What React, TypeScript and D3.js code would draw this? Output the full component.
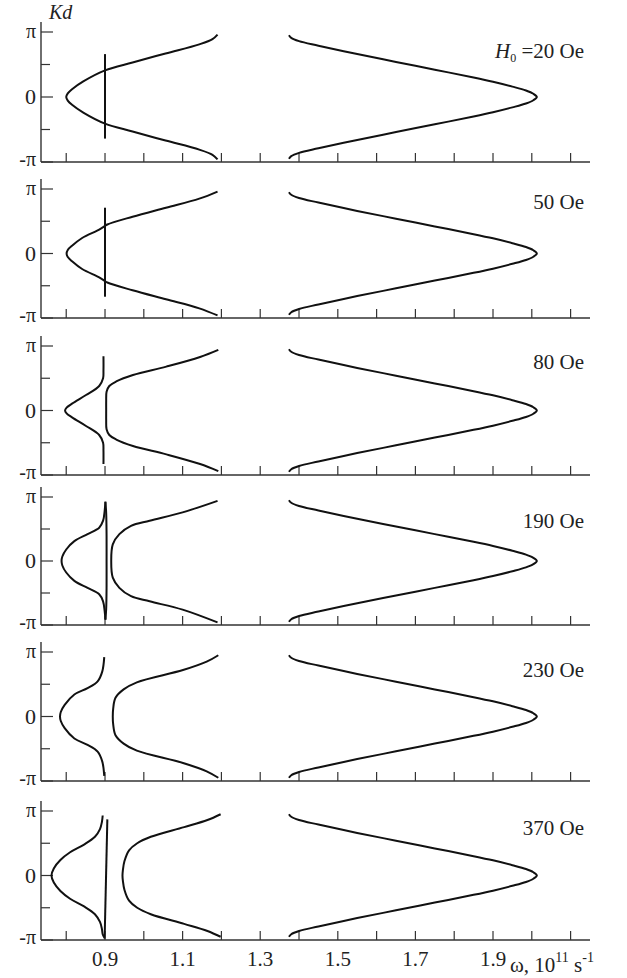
import React, { useRef, useEffect } from "react";
import * as d3 from "d3";

// omega in 10^11 s^-1, Kd in units of pi
const omegaTicks = [0.8, 0.9, 1.0, 1.1, 1.2, 1.3, 1.4, 1.5, 1.6, 1.7, 1.8, 1.9, 2.0, 2.1];
const omegaLabels = [0.9, 1.1, 1.3, 1.5, 1.7, 1.9];
const kdTicks = [-1, -0.5, 0, 0.5, 1];
const kdLabelValues = [1, 0, -1];
const kdLabelText = ["π", "0", "-π"];
const fieldLabels = ["20 Oe", "50 Oe", "80 Oe", "190 Oe", "230 Oe", "370 Oe"];

// high frequency branch, same in every panel
const highBranch = [
  [1.374, 0.95], [1.38, 0.91], [1.40, 0.86], [1.45, 0.79], [1.55, 0.66], [1.65, 0.54],
  [1.75, 0.42], [1.85, 0.30], [1.90, 0.235], [1.95, 0.16], [1.985, 0.10], [2.004, 0.05],
  [2.013, 0], [2.004, -0.05], [1.985, -0.10], [1.95, -0.16], [1.90, -0.235], [1.85, -0.30],
  [1.75, -0.42], [1.65, -0.54], [1.55, -0.66], [1.45, -0.79], [1.40, -0.86], [1.38, -0.91],
  [1.374, -0.95]
];

// 20 Oe
const h20a = [
  [1.19, 0.96], [1.177, 0.89], [1.143, 0.81], [1.056, 0.67], [0.971, 0.53], [0.9, 0.41],
  [0.844, 0.24], [0.815, 0.12], [0.804, 0.055], [0.80, 0], [0.804, -0.055], [0.815, -0.12],
  [0.844, -0.24], [0.9, -0.41], [0.971, -0.53], [1.056, -0.67], [1.143, -0.81],
  [1.177, -0.89], [1.19, -0.96]
];
const h20b = [[0.9, 0.66], [0.9, -0.64]];

// 50 Oe
const h50a = [
  [1.19, 0.96], [1.143, 0.85], [1.057, 0.71], [0.971, 0.57], [0.906, 0.45], [0.898, 0.42],
  [0.885, 0.37], [0.841, 0.24], [0.815, 0.12], [0.804, 0.055], [0.801, 0], [0.804, -0.055],
  [0.815, -0.12], [0.841, -0.24], [0.885, -0.37], [0.898, -0.42], [0.906, -0.45],
  [0.971, -0.57], [1.057, -0.71], [1.143, -0.85], [1.19, -0.96]
];
const h50b = [[0.9, 0.71], [0.9, -0.67]];

// 80 Oe
const h80a = [
  [0.896, 0.84], [0.896, 0.62], [0.895, 0.5], [0.885, 0.38], [0.851, 0.24], [0.816, 0.11],
  [0.801, 0.045], [0.797, 0], [0.801, -0.045], [0.816, -0.11], [0.851, -0.24], [0.885, -0.38],
  [0.895, -0.5], [0.896, -0.62], [0.896, -0.83]
];
const h80b = [
  [1.192, 0.94], [1.145, 0.83], [1.058, 0.68], [0.972, 0.55], [0.929, 0.45], [0.911, 0.38],
  [0.904, 0.29], [0.903, 0.15], [0.903, 0], [0.903, -0.15], [0.904, -0.29], [0.911, -0.38],
  [0.929, -0.45], [0.972, -0.55], [1.058, -0.68], [1.145, -0.83], [1.192, -0.94]
];

// 190 Oe
const h190a = [
  [0.901, 0.92], [0.899, 0.78], [0.895, 0.63], [0.885, 0.52], [0.855, 0.42], [0.821, 0.31],
  [0.80, 0.18], [0.79, 0.07], [0.788, 0], [0.79, -0.07], [0.80, -0.18], [0.821, -0.31],
  [0.855, -0.42], [0.885, -0.52], [0.895, -0.63], [0.899, -0.78], [0.901, -0.91]
];
const h190b = [
  [0.901, 0.93], [0.903, 0.75], [0.904, 0.4], [0.904, 0], [0.904, -0.4], [0.903, -0.75],
  [0.901, -0.92]
];
const h190c = [
  [1.19, 0.94], [1.1, 0.76], [1.015, 0.63], [0.967, 0.55], [0.937, 0.42], [0.92, 0.26],
  [0.916, 0], [0.92, -0.26], [0.937, -0.42], [0.967, -0.55], [1.015, -0.63], [1.1, -0.76],
  [1.19, -0.96]
];

// 230 Oe
const h230a = [
  [0.898, 0.92], [0.893, 0.70], [0.881, 0.545], [0.855, 0.44], [0.821, 0.34], [0.796, 0.18],
  [0.786, 0.07], [0.784, 0], [0.786, -0.07], [0.796, -0.18], [0.821, -0.34], [0.855, -0.44],
  [0.881, -0.545], [0.893, -0.70], [0.898, -0.92]
];
const h230b = [
  [1.192, 0.95], [1.162, 0.85], [1.101, 0.72], [0.982, 0.53], [0.948, 0.42], [0.927, 0.29],
  [0.921, 0.12], [0.92, 0], [0.921, -0.12], [0.927, -0.29], [0.948, -0.42], [0.982, -0.53],
  [1.101, -0.72], [1.162, -0.85], [1.192, -0.95]
];

// 370 Oe
const h370a = [
  [0.894, 0.93], [0.892, 0.83], [0.887, 0.72], [0.874, 0.60], [0.846, 0.48], [0.81, 0.36],
  [0.785, 0.24], [0.768, 0.11], [0.762, 0], [0.768, -0.11], [0.785, -0.24], [0.81, -0.36],
  [0.846, -0.48], [0.874, -0.60], [0.887, -0.72], [0.892, -0.83], [0.894, -0.91],
  [0.898, -0.96]
];
const h370b = [[0.906, 0.87], [0.899, -0.98]];
const h370c = [
  [1.198, 0.95], [1.164, 0.86], [1.104, 0.75], [1.018, 0.6], [0.983, 0.5], [0.962, 0.39],
  [0.95, 0.22], [0.946, 0.08], [0.945, 0], [0.946, -0.08], [0.95, -0.22], [0.962, -0.39],
  [0.983, -0.5], [1.018, -0.6], [1.104, -0.75], [1.164, -0.86], [1.198, -0.95]
];

const panelCurves = [
  [h20a, h20b, highBranch],
  [h50a, h50b, highBranch],
  [h80a, h80b, highBranch],
  [h190a, h190b, h190c, highBranch],
  [h230a, h230b, highBranch],
  [h370a, h370b, h370c, highBranch]
];

// layout
const W = 627, H = 978;
const axisX = 41, axisEnd = 590;
const piY = [32, 189, 346, 497, 652, 811];
const minusPiY = [162, 318, 475, 625, 781, 940];
const labelY = [58, 209, 369, 528, 677, 835];
const font = "'Liberation Serif', 'Times New Roman', serif";

const App = () => {
  const chart = useRef<SVGSVGElement>(null);

  useEffect(() => {
    const svg = d3.select(chart.current);
    svg.selectAll("*").remove();

    const x = d3.scaleLinear().domain([0.735, 2.15]).range([axisX, axisEnd]);
    const axisColor = "#333";

    panelCurves.forEach((curves, i) => {
      const y = d3.scaleLinear().domain([-1, 1]).range([minusPiY[i], piY[i]]);
      const g = svg.append("g");

      // axes
      g.append("line")
        .attr("x1", axisX).attr("x2", axisX)
        .attr("y1", piY[i] - 10).attr("y2", minusPiY[i])
        .attr("stroke", axisColor).attr("stroke-width", 1.4);
      g.append("line")
        .attr("x1", axisX).attr("x2", axisEnd)
        .attr("y1", minusPiY[i]).attr("y2", minusPiY[i])
        .attr("stroke", axisColor).attr("stroke-width", 1.4);

      g.selectAll(".xt")
        .data(omegaTicks)
        .join("line")
          .attr("x1", d => x(d)).attr("x2", d => x(d))
          .attr("y1", minusPiY[i]).attr("y2", minusPiY[i] - 9)
          .attr("stroke", axisColor).attr("stroke-width", 1.2);

      g.selectAll(".yt")
        .data(kdTicks)
        .join("line")
          .attr("x1", axisX)
          .attr("x2", d => axisX + (d === 0 || Math.abs(d) === 1 ? 12 : 9))
          .attr("y1", d => y(d)).attr("y2", d => y(d))
          .attr("stroke", axisColor).attr("stroke-width", 1.2);

      g.selectAll(".yl")
        .data(kdLabelValues)
        .join("text")
          .attr("x", 36)
          .attr("y", d => y(d) + (d === 0 ? 7 : d > 0 ? 6 : 4))
          .attr("text-anchor", "end")
          .attr("font-family", font)
          .attr("font-size", d => (d === 0 ? 22 : 20))
          .attr("fill", "#222")
          .text((d, j) => kdLabelText[j]);

      // field label
      const lab = g.append("text")
        .attr("x", 584)
        .attr("y", labelY[i])
        .attr("text-anchor", "end")
        .attr("font-family", font)
        .attr("font-size", 21)
        .attr("fill", "#222");
      if (i === 0) {
        lab.append("tspan").attr("font-style", "italic").text("H");
        lab.append("tspan").attr("font-size", 12).attr("dy", 4).text("0");
        lab.append("tspan").attr("dy", -4).text(" =" + fieldLabels[i]);
      } else {
        lab.text(fieldLabels[i]);
      }

      const line = d3.line<number[]>()
        .x(d => x(d[0]))
        .y(d => y(d[1]))
        .curve(d3.curveCatmullRom.alpha(0.5));

      g.selectAll(".curve")
        .data(curves)
        .join("path")
          .attr("d", d => line(d))
          .attr("fill", "none")
          .attr("stroke", "#111")
          .attr("stroke-width", 2);
    });

    // bottom tick labels
    svg.append("g")
      .selectAll("text")
      .data(omegaLabels)
      .join("text")
        .attr("x", d => x(d))
        .attr("y", 966)
        .attr("text-anchor", "middle")
        .attr("font-family", font)
        .attr("font-size", 21)
        .attr("fill", "#222")
        .text(d => d.toFixed(1));

    const unit = svg.append("text")
      .attr("x", 510)
      .attr("y", 972)
      .attr("font-family", font)
      .attr("font-size", 21)
      .attr("fill", "#222");
    unit.append("tspan").text("ω, 10");
    unit.append("tspan").attr("font-size", 14).attr("dy", -10).text("11");
    unit.append("tspan").attr("dy", 10).text(" s");
    unit.append("tspan").attr("font-size", 14).attr("dy", -10).text("-1");

    svg.append("text")
      .attr("x", 49)
      .attr("y", 19)
      .attr("font-family", font)
      .attr("font-style", "italic")
      .attr("font-size", 20)
      .attr("fill", "#222")
      .text("Kd");
  }, []);

  return (
    <svg
      ref={chart}
      width={W}
      height={H}
      style={{ position: "absolute", left: 0, top: 0, background: "#fff" }}
    ></svg>
  );
};

export default App;
